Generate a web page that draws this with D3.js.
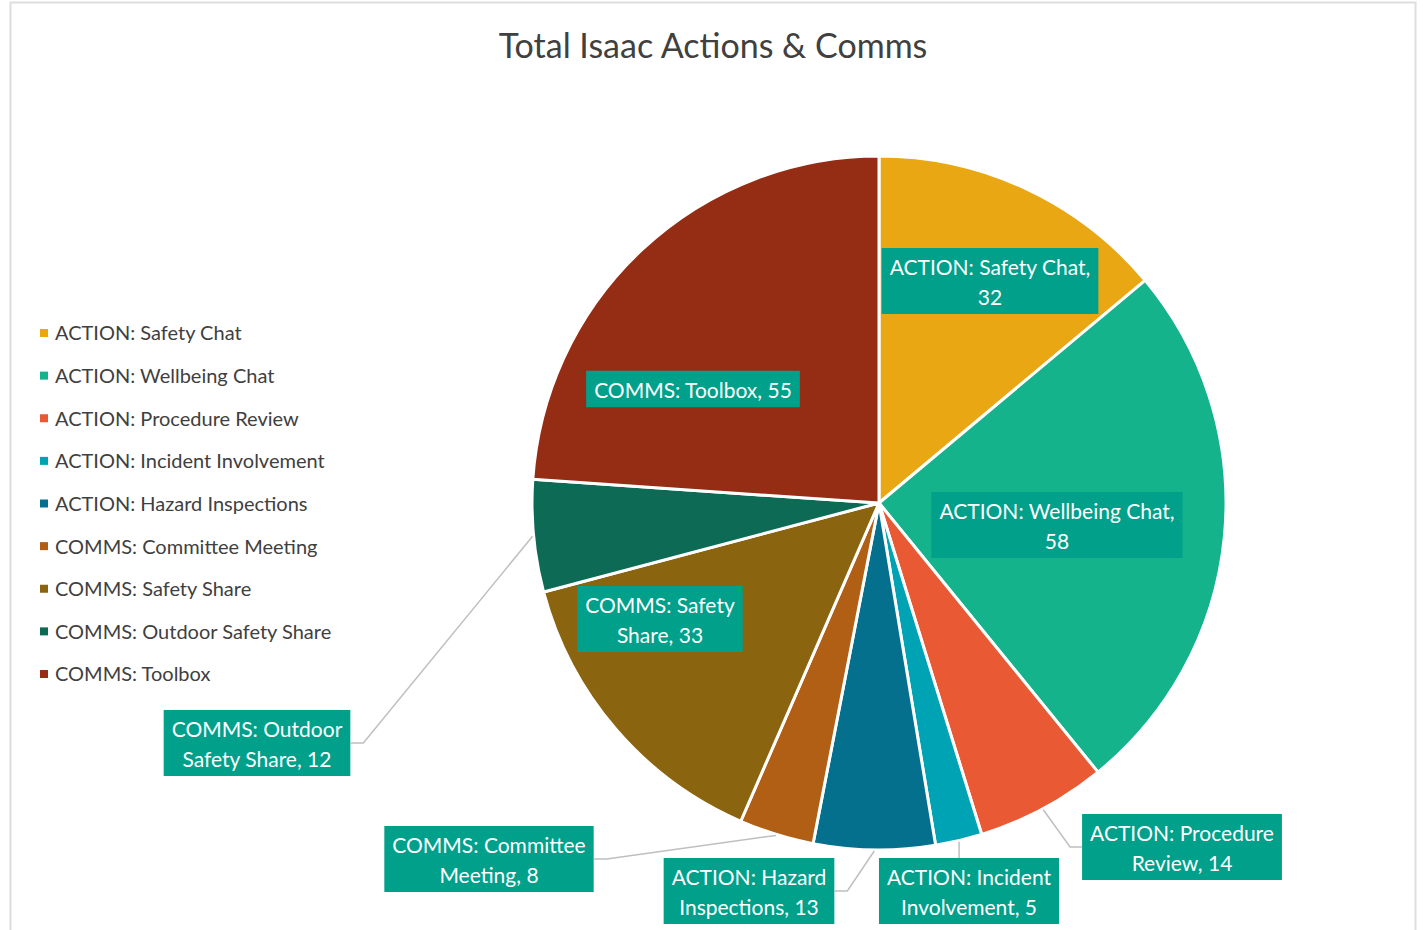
<!DOCTYPE html>
<html>
<head>
<meta charset="utf-8">
<script src="https://cdn.jsdelivr.net/npm/d3@7"></script>
<style>
  html, body { margin: 0; padding: 0; background: #ffffff; }
  svg { display: block; }
</style>
</head>
<body>
<svg id="chart" width="1423" height="930"></svg>
<script>
// Categories and counts, in slice order (clockwise from 12 o'clock)
const categories = [
  "ACTION: Safety Chat",
  "ACTION: Wellbeing Chat",
  "ACTION: Procedure Review",
  "ACTION: Incident Involvement",
  "ACTION: Hazard Inspections",
  "COMMS: Committee Meeting",
  "COMMS: Safety Share",
  "COMMS: Outdoor Safety Share",
  "COMMS: Toolbox"
];
const values = [32, 58, 14, 5, 13, 8, 33, 12, 55];
const colors = [
  "#E8A713", "#14B38B", "#E85934", "#00A3B4", "#05708E",
  "#B05F14", "#8A640F", "#0D6B55", "#952C14"
];

// Data label placement: box centre offset from the pie centre, words on
// the first line, and which side the leader line attaches to (null = inside)
const labelDx    = [111, 178, 303, 90, -130, -390, -219, -622, -186];
const labelDy    = [-222, 22, 344, 388, 388, 356, 116, 240, -114];
const firstLineWords = [3, 3, 2, 2, 2, 2, 2, 2, 4];
const leaderSide = [null, null, "left", "top", "right", "right", null, "right", null];

const titleText = "Total Isaac Actions & Comms";

const svg = d3.select("#chart");
const FONT = "Lato, 'Open Sans', sans-serif";
const TEXT_COLOR = "#404040";

// Chart frame
svg.append("rect")
  .attr("x", 10.5).attr("y", 2.5)
  .attr("width", 1405).attr("height", 960)
  .attr("fill", "#ffffff")
  .attr("stroke", "#DEDEDE").attr("stroke-width", 2);

// Title
svg.append("text")
  .attr("x", 713).attr("y", 58)
  .attr("text-anchor", "middle")
  .attr("font-family", FONT)
  .attr("font-size", 34)
  .attr("fill", TEXT_COLOR)
  .text(titleText);

// Pie
const cx = 879, cy = 503, R = 347;
const pie = d3.pie().sort(null).value(d => d);
const arcs = pie(values);
const arc = d3.arc().innerRadius(0).outerRadius(R);

const g = svg.append("g").attr("transform", `translate(${cx},${cy})`);
g.selectAll("path.slice")
  .data(arcs)
  .join("path")
  .attr("class", "slice")
  .attr("d", arc)
  .attr("fill", (d, i) => colors[i])
  .attr("stroke", "#ffffff")
  .attr("stroke-width", 3)
  .attr("stroke-linejoin", "round");

// Legend
const legend = svg.append("g").attr("class", "legend");
const legendY = d3.scalePoint().domain(categories).range([333, 674]);
categories.forEach((c, i) => {
  const y = legendY(c);
  legend.append("rect")
    .attr("x", 40).attr("y", y - 4)
    .attr("width", 8).attr("height", 8)
    .attr("fill", colors[i]);
  legend.append("text")
    .attr("x", 55).attr("y", y)
    .attr("dy", "0.37em")
    .attr("font-family", FONT)
    .attr("font-size", 20)
    .attr("fill", TEXT_COLOR)
    .text(c);
});

// Data labels with leader lines
const labels = svg.append("g").attr("class", "labels");
const leaders = svg.append("g").attr("class", "leaders");
const LINE_H = 29.5, PAD = 8;

arcs.forEach((d, i) => {
  const words = `${categories[i]}, ${values[i]}`.split(" ");
  const lines = [words.slice(0, firstLineWords[i]).join(" ")];
  if (firstLineWords[i] < words.length) lines.push(words.slice(firstLineWords[i]).join(" "));

  const bx = cx + labelDx[i], by = cy + labelDy[i];
  const lg = labels.append("g");
  const rect = lg.append("rect").attr("fill", "#00A08B");
  const texts = lines.map((ln, k) =>
    lg.append("text")
      .attr("x", bx)
      .attr("y", by + (k - (lines.length - 1) / 2) * LINE_H)
      .attr("dy", "0.42em")
      .attr("text-anchor", "middle")
      .attr("font-family", FONT)
      .attr("font-size", 21)
      .attr("fill", "#ffffff")
      .text(ln)
  );
  const w = d3.max(texts, t => t.node().getComputedTextLength()) + 2 * PAD;
  const h = lines.length * LINE_H + 7;
  const left = bx - w / 2, top = by - h / 2;
  rect.attr("x", left).attr("y", top).attr("width", w).attr("height", h);

  const side = leaderSide[i];
  if (!side) return;
  const mid = (d.startAngle + d.endAngle) / 2;
  const sx = cx + (R + 1) * Math.sin(mid), sy = cy - (R + 1) * Math.cos(mid);
  let pts;
  if (side === "left") {
    pts = [[sx, sy], [left - 12, by], [left, by]];
  } else if (side === "right") {
    pts = [[sx, sy], [left + w + 13, by], [left + w, by]];
  } else {
    pts = [[sx, sy], [sx, top]];
  }
  leaders.append("path")
    .attr("d", d3.line()(pts))
    .attr("fill", "none")
    .attr("stroke", "#BFBFBF")
    .attr("stroke-width", 1.5);
});
</script>
</body>
</html>
